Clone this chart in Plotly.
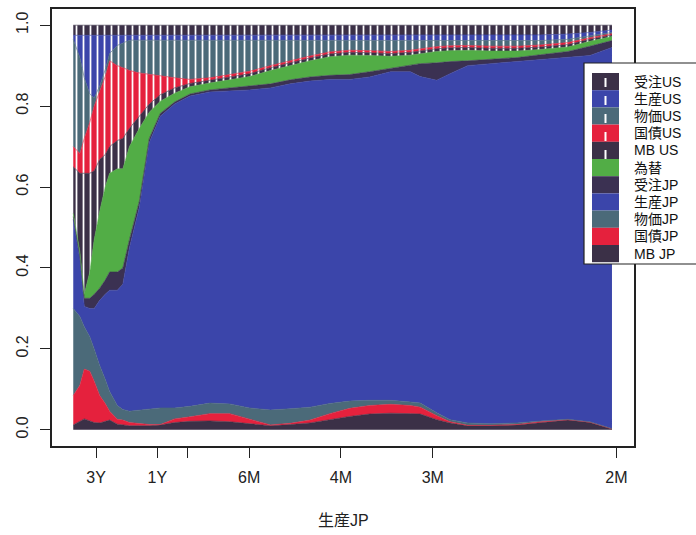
import plotly.graph_objects as go

# frequency (cycles per month)
freq = [0.007, 0.013, 0.017, 0.022, 0.026, 0.031, 0.036, 0.040, 0.047, 0.052,
        0.058, 0.067, 0.076, 0.086, 0.099, 0.113, 0.131, 0.149, 0.167, 0.186,
        0.204, 0.222, 0.240, 0.258, 0.276, 0.295, 0.313, 0.322, 0.337, 0.349,
        0.365, 0.386, 0.410, 0.431, 0.456, 0.476, 0.496]

mb_jp = [.012, .020, .027, .022, .018, .017, .020, .024, .014, .012, .010, .010, .010, .012, .018, .021,
         .022, .020, .015, .010, .013, .017, .025, .033, .039, .041, .040, .039, .025, .017, .010, .010,
         .012, .018, .024, .018, .002]
kokusai_jp = [.073, .090, .123, .123, .102, .068, .045, .022, .012, .012, .008, .005, .003, .001, .009, .011,
              .018, .020, .012, .002, .003, .007, .015, .020, .021, .022, .020, .017, .010, .003, .001, .001,
              .001, .002, .001, .001, .000]
bukka_jp = [.215, .170, .105, .085, .080, .074, .060, .049, .034, .026, .028, .033, .037, .041, .027, .026,
            .026, .024, .027, .037, .036, .032, .025, .018, .013, .010, .009, .010, .007, .005, .006, .004,
            .004, .002, .001, .001, .001]
seisan_jp = [.220, .140, .050, .070, .100, .161, .210, .250, .285, .310, .404, .502, .660, .721, .751, .767,
             .769, .774, .786, .796, .803, .806, .801, .795, .799, .812, .816, .807, .822, .855, .883, .890,
             .893, .893, .894, .905, .942]
juchu_jp = [.007, .010, .020, .025, .035, .030, .035, .045, .045, .040, .020, .015, .010, .007, .005, .005,
            .005, .007, .010, .010, .010, .010, .010, .012, .013, .008, .015, .032, .043, .030, .012, .010,
            .010, .012, .015, .023, .017]
kawase = [.008, .010, .010, .065, .135, .190, .230, .244, .255, .245, .230, .180, .065, .030, .022, .018,
          .017, .020, .023, .033, .035, .040, .046, .048, .040, .030, .026, .025, .028, .027, .026, .021,
          .016, .013, .011, .012, .010]
mb_us = [.115, .194, .299, .244, .170, .128, .080, .066, .070, .075, .045, .030, .020, .016, .013, .008,
         .007, .007, .007, .007, .007, .007, .007, .007, .007, .007, .007, .007, .007, .007, .007, .007,
         .007, .006, .006, .005, .004]
kokusai_us = [.050, .049, .086, .126, .160, .169, .193, .212, .185, .175, .143, .107, .073, .047, .025, .010,
              .006, .006, .006, .005, .005, .005, .005, .005, .005, .005, .005, .005, .005, .005, .005, .005,
              .005, .005, .005, .004, .003]
bukka_us = [.265, .237, .150, .070, .020, .013, .017, .018, .050, .060, .075, .081, .085, .088, .093, .097,
            .093, .085, .077, .063, .051, .039, .029, .025, .026, .028, .024, .020, .015, .013, .012, .014,
            .014, .011, .008, .005, .003]
seisan_us = [.010, .055, .105, .145, .155, .125, .085, .045, .025, .020, .013, .013, .013, .013, .013, .013,
             .013, .013, .013, .013, .013, .013, .013, .013, .013, .013, .014, .014, .014, .014, .014, .014,
             .014, .014, .013, .008, .006]
juchu_us = [.025, .025, .025, .025, .025, .025, .025, .025, .025, .025, .024, .024, .024, .024, .024, .024,
            .024, .024, .024, .024, .024, .024, .024, .024, .024, .024, .024, .024, .024, .024, .024, .024,
            .024, .024, .022, .018, .012]

period_months = [36, 12, 9, 6, 4, 3, 2]
period_labels = ["3Y", "1Y", "", "6M", "4M", "3M", "2M"]
y_ticks = [0.0, 0.2, 0.4, 0.6, 0.8, 1.0]

DARK = "#3b3047"
RED = "#e5213d"
TEAL = "#4b6a79"
BLUE = "#3b45aa"
GREEN = "#52ad46"
DARK2 = "#3b3152"

# bottom -> top
layers = [
    ("MB JP", mb_jp, DARK, False),
    ("国債JP", kokusai_jp, RED, False),
    ("物価JP", bukka_jp, TEAL, False),
    ("生産JP", seisan_jp, BLUE, False),
    ("受注JP", juchu_jp, DARK2, False),
    ("為替", kawase, GREEN, False),
    ("MB US", mb_us, DARK, True),
    ("国債US", kokusai_us, RED, True),
    ("物価US", bukka_us, TEAL, True),
    ("生産US", seisan_us, BLUE, True),
    ("受注US", juchu_us, DARK, True),
]

fig = go.Figure()
for name, vals, col, pat in layers:
    kw = {}
    if pat:
        kw["fillpattern"] = dict(shape="|", fgcolor="white", bgcolor=col,
                                 size=7, solidity=0.25, fillmode="replace")
    fig.add_trace(go.Scatter(
        x=freq, y=vals, name=name, mode="lines", stackgroup="one",
        line=dict(width=0.6, color=col), fillcolor=col, hoverinfo="skip",
        showlegend=False, **kw))

W, H = 696, 535
L, R, T, B = 52, 62, 9, 89
PW, PH = W - L - R, H - T - B


def px(x):
    return (x - L) / PW


def py(y):
    return (H - B - y) / PH


FONT = "Liberation Sans, Arial, Noto Sans CJK JP, sans-serif"

fig.update_layout(
    width=W, height=H,
    margin=dict(l=L, r=R, t=T, b=B, pad=0, autoexpand=False),
    paper_bgcolor="white", plot_bgcolor="white",
    font=dict(family=FONT, size=16, color="#222"),
    showlegend=False,
    xaxis=dict(range=[-0.0123, 0.516], tickvals=[1 / m for m in period_months],
               ticktext=period_labels, ticks="outside", ticklen=10, tickwidth=1.2,
               tickcolor="#222", showgrid=False, zeroline=False, automargin=False,
               showline=True, mirror=True, linecolor="#222", linewidth=1.5,
               ticklabelstandoff=6, tickfont=dict(size=16)),
    yaxis=dict(range=[-0.04, 1.04], tickvals=y_ticks, tickformat=".1f",
               ticks="outside", ticklen=10, tickwidth=1.2, tickcolor="#222",
               showgrid=False, zeroline=False, tickangle=-90, automargin=False,
               showline=True, mirror=True, linecolor="#222", linewidth=1.5,
               ticklabelstandoff=6, tickfont=dict(size=16)),
)

annotations = [dict(text="生産JP", xref="paper", yref="paper", x=0.5, y=py(520),
                    xanchor="center", yanchor="middle", showarrow=False,
                    font=dict(size=16, family=FONT))]
shapes = []

# legend box
lx0, lx1, ly0, ly1 = 584, 720, 63, 264
shapes.append(dict(type="rect", xref="paper", yref="paper", x0=px(lx0), x1=px(lx1),
                   y0=py(ly1), y1=py(ly0), fillcolor="white",
                   line=dict(color="#222", width=1.2), layer="above"))
legend_order = list(reversed(layers))
row_h = 17.2
top0 = 73
for i, (name, vals, col, pat) in enumerate(legend_order):
    y_top = top0 + i * row_h
    shapes.append(dict(type="rect", xref="paper", yref="paper", x0=px(592), x1=px(619),
                       y0=py(y_top + row_h), y1=py(y_top), fillcolor=col,
                       line=dict(width=0), layer="above"))
    annotations.append(dict(text=name, xref="paper", yref="paper", x=px(632),
                            y=py(y_top + row_h / 2), xanchor="left", yanchor="middle",
                            showarrow=False, font=dict(size=14, family=FONT, color="#111")))
n_us = sum(1 for l in layers if l[3])
shapes.append(dict(type="line", xref="paper", yref="paper", x0=px(605.5), x1=px(605.5),
                   y0=py(top0 + n_us * row_h), y1=py(top0),
                   line=dict(color="white", width=2, dash="dash"), layer="above"))

fig.update_layout(shapes=shapes, annotations=annotations)
fig.write_html("out.html", config={"displayModeBar": False},
               post_script="document.body.style.margin='0';document.body.style.overflow='hidden';")
